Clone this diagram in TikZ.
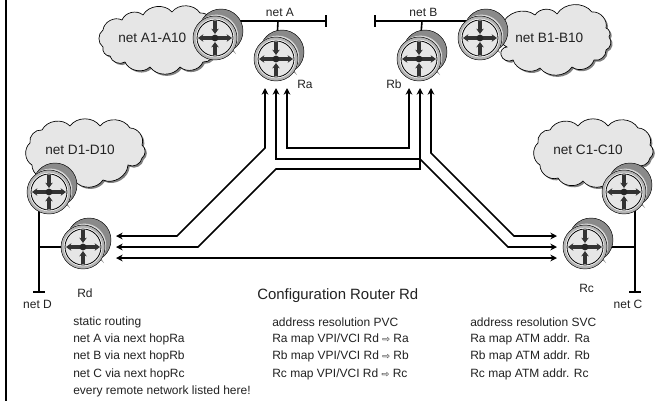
\documentclass[tikz,border=0pt]{standalone}
\usepackage{fontspec}
\setmainfont{Liberation Sans}
\newfontfamily\symfont{DejaVu Sans}
\usetikzlibrary{arrows.meta,calc}
\definecolor{cloudfill}{HTML}{E6E6E6}
\definecolor{cloudshadow}{HTML}{808080}
\definecolor{backdisk}{HTML}{8A8A8A}
\definecolor{ringgray}{HTML}{B4B4B4}
\definecolor{sidegray}{HTML}{D8D8D8}
\definecolor{facegray}{HTML}{E6E6E6}
\definecolor{txt}{HTML}{222222}
\newcommand{\routerart}[1]{%
  \begin{scope}[shift={(#1)}]
    \fill[backdisk,draw=black,line width=.35pt] (6,-7) circle (22);
    \fill[backdisk] (0,0) -- (-15,-16) -- (21,16) -- (6,-7) -- cycle;
    \fill[sidegray] (1.4,-1.6) circle (21.8);
    \fill[ringgray,draw=black,line width=.35pt] (0,0) circle (22);
    \fill[white] (0,0) circle (19.2);
    \fill[facegray,draw=black,line width=.6pt] (0,0) circle (18);
    \draw[rarrow,{Stealth[length=4pt,width=5.6pt]}-{Stealth[length=4pt,width=5.6pt]}] (-17,0) -- (17,0);
    \draw[rarrow,-{Stealth[length=4pt,width=5.6pt]}] (0,-17) -- (0,-4);
    \draw[rarrow,-{Stealth[length=4pt,width=5.6pt]}] (0,17) -- (0,4);
    \fill[black!85] (0,0) circle (3.4);
  \end{scope}}
\tikzset{
  rarrow/.style={line width=2.4pt,black!80},
  routernode/.style={circle,minimum size=33pt,inner sep=0pt},
  wire/.style={line width=1.2pt,black},
  link/.style={line width=1.15pt,black,{Stealth[length=5pt,width=5pt]}-{Stealth[length=5pt,width=5pt]},line join=miter},
  lab/.style={inner sep=0pt,text=txt,font=\fontsize{9}{9}\selectfont},
  cloudlab/.style={inner sep=0pt,text=txt,font=\fontsize{10.2}{10}\selectfont},
  titlelab/.style={inner sep=0pt,text=txt,font=\fontsize{11.2}{11}\selectfont},
  cloudback/.style={fill=cloudshadow},
  cloudfront/.style={fill=cloudfill,draw=black,line width=.5pt},
  bump/.style={bend left=55},
}
\newcommand{\cloudA}{(103,47) to[bump] (103,30) to[bump] (122,20) to[bump] (143,15) to[bump] (172,12) to[bump] (200,13) to[bump] (214,30) to[bump] (214,50) to[bump] (203,62) to[bump] (180,67) to[bump] (150,67) to[bump] (125,62) to[bump] (110,56) to[bump] cycle}
\newcommand{\cloudB}{(507,47) to[bump] (502,25) to[bump] (535,15) to[bump] (557,14) to[bump] (592,12) to[bump] (606,28) to[bump] (609,37) to[bump] (606,50) to[bump] (594,60) to[bump] (572,67) to[bump] (540,68) to[bump] (513,60) to[bump] (501,55) to[bump] cycle}
\newcommand{\cloudD}{(32,165) to[bump] (30,143) to[bump] (42,130) to[bump] (70,126) to[bump] (100,126) to[bump] (130,128) to[bump] (142,145) to[bump] (142,158) to[bump] (128,165) to[bump] (103,180) to[bump] (75,181) to[bump] (50,178) to[bump] cycle}
\newcommand{\cloudC}{(540,165) to[bump] (538,143) to[bump] (550,130) to[bump] (578,126) to[bump] (608,126) to[bump] (638,128) to[bump] (650,145) to[bump] (650,158) to[bump] (636,165) to[bump] (611,180) to[bump] (583,181) to[bump] (558,178) to[bump] cycle}
\begin{document}
\begin{tikzpicture}[x=.75pt,y=-.75pt]
\useasboundingbox (0,0) rectangle (657,401);
\fill[white] (0,0) rectangle (657,401);
% left border
\coordinate (bt) at (6,0);
\coordinate (bb) at (6,401);
\draw[line width=1.1pt] (bt) -- (bb);
% clouds
\foreach \c in {\cloudA,\cloudB,\cloudD,\cloudC}{
  \begin{scope}[shift={(1.7,1.7)}] \path[cloudback] \c; \end{scope}
  \path[cloudfront] \c;
}
% router anchors
\node[routernode] (A1) at (215,38) {};
\node[routernode] (Ra) at (276,59) {};
\node[routernode] (Rb) at (419,59) {};
\node[routernode] (B1) at (480,38) {};
\node[routernode] (D1) at (49,192) {};
\node[routernode] (Rd) at (83,247) {};
\node[routernode] (Rc) at (585,247) {};
\node[routernode] (C1) at (624,192) {};
% LAN wires
\coordinate (aw) at (221,21); \coordinate (ae) at (326,21);
\coordinate (at) at (278,21);
\coordinate (be) at (375,21); \coordinate (bw) at (474,21);
\coordinate (bt2) at (422,21);
\draw[wire] (aw) -- (ae);
\draw[wire] ($(ae)+(0,-6)$) -- ($(ae)+(0,6)$);
\draw[wire] (at) -- (Ra);
\draw[wire] (be) -- (bw);
\draw[wire] ($(be)+(0,-6)$) -- ($(be)+(0,6)$);
\draw[wire] (bt2) -- (Rb);
\coordinate (dt) at (39,200); \coordinate (dj) at (39,247); \coordinate (db) at (39,292);
\draw[wire] (dt) -- (db);
\draw[wire] ($(db)+(-6,0)$) -- ($(db)+(6,0)$);
\draw[wire] (dj) -- (Rd);
\coordinate (ct) at (635,200); \coordinate (cj) at (635,247); \coordinate (cb) at (635,292);
\draw[wire] (ct) -- (cb);
\draw[wire] ($(cb)+(-6,0)$) -- ($(cb)+(6,0)$);
\draw[wire] (cj) -- (Rc);
% routers
\foreach \r in {A1,Ra,Rb,B1,D1,Rd,Rc,C1}{\routerart{\r}}
% PVC links
\coordinate (ra1) at (265,88); \coordinate (ra2) at (276,88); \coordinate (ra3) at (287,88);
\coordinate (rb1) at (409,88); \coordinate (rb2) at (420,88); \coordinate (rb3) at (431,88);
\coordinate (rd1) at (116,236); \coordinate (rd2) at (116,247); \coordinate (rd3) at (116,258);
\coordinate (rc1) at (557,236); \coordinate (rc2) at (557,247); \coordinate (rc3) at (557,258);
\draw[link] (ra3) -- (287,148) -- (409,148) -- (rb1);
\draw[link] (ra1) -- (265,148) -- (177,236) -- (rd1);
\draw[link] (ra2) -- (276,159) -- (420,159) -- (508,247) -- (rc2);
\draw[link] (rb2) -- (420,169) -- (276,169) -- (198,247) -- (rd2);
\draw[link] (rb3) -- (431,153) -- (514,236) -- (rc1);
\draw[link] (rd3) -- (rc3);
% labels
\node[lab] (lnetA) at (280,12) {net A};
\node[lab] (lnetB) at (423.5,12) {net B};
\node[lab,anchor=west] (lRa) at (297,84.5) {Ra};
\node[lab,anchor=west] (lRb) at (386,84.5) {Rb};
\node[lab,anchor=west] (lRd) at (77,293) {Rd};
\node[lab,anchor=west] (lRc) at (579,288.5) {Rc};
\node[lab] (lnetD) at (37.5,304) {net D};
\node[lab] (lnetC) at (628,304) {net C};
\node[cloudlab,anchor=west] (cA) at (118,38) {net A1-A10};
\node[cloudlab,anchor=west] (cB) at (515,38) {net B1-B10};
\node[cloudlab,anchor=west] (cD) at (45,150) {net D1-D10};
\node[cloudlab,anchor=west] (cC) at (553,150) {net C1-C10};
\node[titlelab,anchor=west] (title) at (257,296) {Configuration Router Rd};
\node[lab,anchor=west] (s1) at (73,322) {static routing};
\node[lab,anchor=west] (s2) at (73,339.5) {net A via next hopRa};
\node[lab,anchor=west] (s3) at (73,356.5) {net B via next hopRb};
\node[lab,anchor=west] (s4) at (73,374) {net C via next hopRc};
\node[lab,anchor=west] (s5) at (73,391.5) {every remote network listed here!};
\node[lab,anchor=west] (p1) at (272,322) {address resolution PVC};
\node[lab,anchor=west] (p2) at (272,339.5) {Ra map VPI/VCI Rd {\symfont\fontsize{7}{7}\selectfont ⇨} Ra};
\node[lab,anchor=west] (p3) at (272,356.5) {Rb map VPI/VCI Rd {\symfont\fontsize{7}{7}\selectfont ⇨} Rb};
\node[lab,anchor=west] (p4) at (272,374) {Rc map VPI/VCI Rd {\symfont\fontsize{7}{7}\selectfont ⇨} Rc};
\node[lab,anchor=west] (v1) at (470,322) {address resolution SVC};
\node[lab,anchor=west] (v2) at (470,339.5) {Ra map ATM addr. Ra};
\node[lab,anchor=west] (v3) at (470,356.5) {Rb map ATM addr. Rb};
\node[lab,anchor=west] (v4) at (470,374) {Rc map ATM addr. Rc};
\end{tikzpicture}
\end{document}
